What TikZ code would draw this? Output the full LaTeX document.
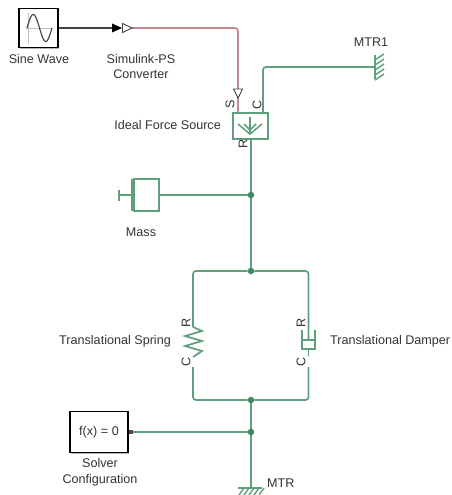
\documentclass[tikz,border=0pt]{standalone}
\usepackage{fontspec}
\setmainfont{Liberation Sans}
\usetikzlibrary{shadows}
\begin{document}
\begin{tikzpicture}[x=1pt, y=-1pt,
    blockBox/.style={draw=black, fill=white, line width=1.2pt, inner sep=0pt, drop shadow={shadow xshift=1.2pt, shadow yshift=-1.2pt, fill=black!40, opacity=0.7}},
    physBox/.style={draw=physColour, fill=white, line width=1.6pt, inner sep=0pt},
    physWire/.style={draw=physColour, line width=1.7pt},
    junctionDot/.style={circle, fill=junctionColour, inner sep=0pt, minimum size=6.5pt},
    blockLabel/.style={text=textColour, font=\fontsize{12.6}{15.5}\selectfont, align=center, inner sep=0pt},
    portLabel/.style={text=textColour, font=\fontsize{12.6}{13}\selectfont, inner sep=0pt, rotate=90}]
    % Define colours
    \definecolor{physColour}{HTML}{5E9F7C}
    \definecolor{junctionColour}{HTML}{3F8A63}
    \definecolor{signalColour}{HTML}{C2898F}
    \definecolor{textColour}{HTML}{333333}

    % Fix the margins
    \useasboundingbox (0,0) rectangle (452,495);

    % Define coordinates for the junctions
    \node[junctionDot] (massJoin) at (251,195) {};
    \node[junctionDot] (loopTop) at (251,271) {};
    \node[junctionDot] (loopBottom) at (251,400) {};
    \node[junctionDot] (solverJoin) at (251,432) {};

    % Define coordinates for the free ends
    \coordinate (convIn) at (112,28);
    \coordinate (convOut) at (132,28);
    \coordinate (sensePort) at (238,98);
    \coordinate (wallOne) at (375,67);
    \coordinate (groundTop) at (251,488);
    \coordinate (springTop) at (193,327);
    \coordinate (springBottom) at (193,357);
    \coordinate (damperTop) at (308.5,340);
    \coordinate (damperBottom) at (308.5,349);

    % Draw blocks
    \node[blockBox, minimum width=39pt, minimum height=39pt] (sine) at (38.5,28) {};
    \node[blockBox, minimum width=58pt, minimum height=41pt, text=textColour, font=\fontsize{12.6}{15}\selectfont] (solver) at (99,432) {f(x) = 0};
    \node[physBox, minimum width=35pt, minimum height=26pt] (source) at (250.5,126) {};
    \node[physBox, minimum width=25pt, minimum height=32pt] (mass) at (146.5,195) {};

    % Draw sine wave
    \draw[gray!50, very thin] (26,28) -- (52,28) (28,13) -- (28,44);
    \draw[black!75, line width=1.1pt, smooth, domain=0:360, samples=40] plot ({27+25*\x/360},{28-13.5*sin(\x)});

    % Draw signal wires
    \draw[black!75, line width=1.5pt] (sine.east) -- (convIn);
    \draw[signalColour, line width=1.7pt, rounded corners=3pt] (convOut) -| (sensePort);
    \draw[signalColour, line width=1.7pt] (sensePort) -- (source.north -| sensePort);

    % Draw converter ports
    \fill[black] (112,23.5) -- (122,28) -- (112,32.5) -- cycle;
    \draw[black!75, fill=white, line width=0.9pt] (122.5,23.5) -- (132,28) -- (122.5,32.5) -- cycle;
    \draw[black!75, fill=white, line width=0.9pt] (233.5,89) -- (238,98) -- (242.5,89) -- cycle;

    % Draw mechanical wires
    \draw[physWire, rounded corners=3pt] (263,113) |- (wallOne);
    \draw[physWire] (source.south -| loopTop) -- (massJoin);
    \draw[physWire] (mass.east) -- (massJoin);
    \draw[physWire] (massJoin) -- (loopTop);
    \draw[physWire] (loopBottom) -- (solverJoin);
    \draw[physWire] (solverJoin) -- (groundTop);
    \draw[physWire] (solver.east) -- (solverJoin);
    \draw[physWire, rounded corners=3pt] (springTop) |- (loopTop.west);
    \draw[physWire, rounded corners=3pt] (damperTop) |- (loopTop.east);
    \draw[physWire, rounded corners=3pt] (193,367) |- (loopBottom.west);
    \draw[physWire, rounded corners=3pt] (308.5,367) |- (loopBottom.east);
    \draw[physWire] (damperBottom) -- (308.5,356);

    % Draw solver port
    \fill[black!70] (128.5,430) rectangle (132.5,434);

    % Draw source symbol
    \draw[physColour, line width=1.5pt] (250,117) -- (250,134);
    \draw[physColour, line width=1.5pt] (244,124) -- (250,130) -- (256,124);
    \draw[physColour, line width=1.5pt] (238,124) -- (250,134) -- (262,124);

    % Draw mass symbol
    \draw[physWire] (132,179) -- (132,211);
    \draw[physWire] (132,195) -- (119,195) (119,189.5) -- (119,200.5);

    % Draw spring
    \draw[physWire] (springTop) -- (202,331) -- (185,336) -- (202,341) -- (185,346) -- (202,351) -- (springBottom);

    % Draw damper
    \draw[physWire] (302,330) -- (302,349) -- (315,349) -- (315,330);
    \draw[physWire] (302,340) -- (315,340);

    % Draw grounds
    \draw[physWire] (375,55) -- (375,79);
    \foreach \y in {60,65,70,75,80}
        \draw[physColour, line width=1.4pt] (375,\y) -- (384,\y-6);
    \draw[physWire] (238,488) -- (262,488);
    \foreach \x in {239,244,249,254,259}
        \draw[physColour, line width=1.4pt] (\x,495) -- (\x+5,488);

    % Label blocks
    \node[blockLabel] (sineText) at (39,59) {Sine Wave};
    \node[blockLabel] (convText) at (141,66.5) {Simulink-PS\\Converter};
    \node[blockLabel, anchor=east] (sourceText) at (221,125) {Ideal Force Source};
    \node[blockLabel] (massText) at (141,232) {Mass};
    \node[blockLabel, anchor=east] (springText) at (171,341) {Translational Spring};
    \node[blockLabel, anchor=west] (damperText) at (330,341) {Translational Damper};
    \node[blockLabel] (solverText) at (100,472) {Solver\\Configuration};
    \node[blockLabel] (wallText) at (371,42) {MTR1};
    \node[blockLabel, anchor=west] (groundText) at (267,483) {MTR};

    % Label ports
    \node[portLabel] at (230,104) {S};
    \node[portLabel] at (257,105) {C};
    \node[portLabel] at (243,144) {R};
    \node[portLabel] at (186,323) {R};
    \node[portLabel] at (186,362) {C};
    \node[portLabel] at (301,323) {R};
    \node[portLabel] at (301,362) {C};
\end{tikzpicture}
\end{document}
